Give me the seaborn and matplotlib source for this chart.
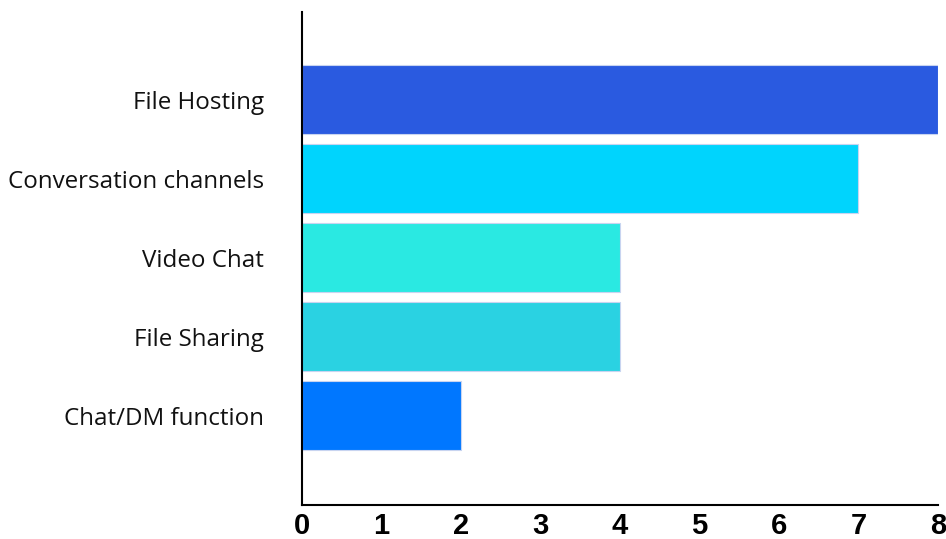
import matplotlib
matplotlib.use("Agg")
import matplotlib.pyplot as plt
import seaborn as sns
import pandas as pd

categories = ["File Hosting", "Conversation channels", "Video Chat", "File Sharing", "Chat/DM function"]
values = [8, 7, 4, 4, 2]
colors = ["#2a5ae0", "#00d4fd", "#2ae9e2", "#2ad2e2", "#0077ff"]
xticks = [0, 1, 2, 3, 4, 5, 6, 7, 8]

df = pd.DataFrame({"category": categories, "value": values})

sns.set_style("white")
fig = plt.figure(figsize=(9.46, 5.39), dpi=100)
ax = fig.add_axes([0.319, 0.063, 0.6725, 0.915])
sns.barplot(data=df, y="category", x="value", hue="category", palette=colors,
            order=categories, hue_order=categories, legend=False, width=0.87,
            saturation=1, edgecolor="#c8d4f0", linewidth=0.8, ax=ax)

ax.set_xlim(0, 8)
ax.set_ylim(5.13, -1.11)
ax.set_xticks(xticks)
ax.set_xticklabels([str(t) for t in xticks], fontsize=21, fontweight="bold",
                   family="Liberation Sans", color="black")
ax.tick_params(axis="x", direction="in", length=9, width=1.5, color="black", pad=5)
ax.tick_params(axis="y", length=0, pad=27)
for lab in ax.get_yticklabels():
    lab.set_fontsize(17.4)
    lab.set_family("Open Sans")
    lab.set_color("#111111")
ax.set_xlabel("")
ax.set_ylabel("")
for s in ["top", "right"]:
    ax.spines[s].set_visible(False)
for s in ["left", "bottom"]:
    ax.spines[s].set_linewidth(1.5)
    ax.spines[s].set_color("black")

fig.savefig("out.png", dpi=100)
